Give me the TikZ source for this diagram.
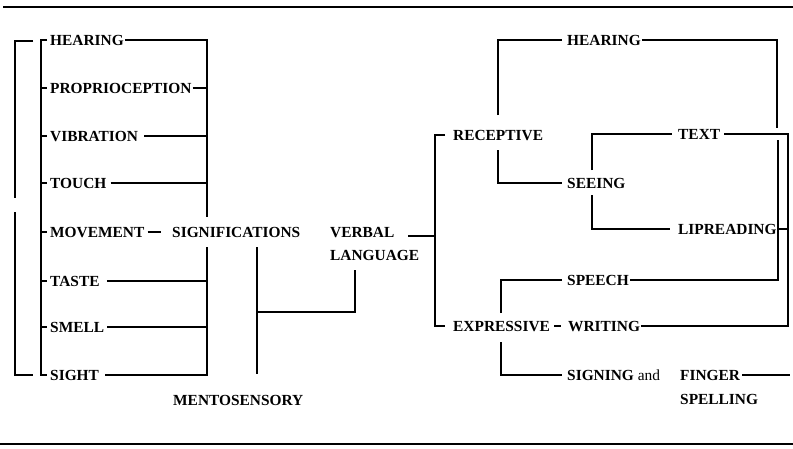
\documentclass[tikz,border=0pt]{standalone}
\usepackage{fontspec}
\setmainfont{Liberation Serif}
\begin{document}
\begin{tikzpicture}[x=1pt,y=-1pt,
  lbl/.style={anchor=west,inner sep=0pt,text height=10.1pt,text depth=0pt,font=\bfseries\fontsize{15.4}{15.4}\selectfont},
  ln/.style={line width=1.8pt,line cap=butt,line join=miter},
  rule/.style={line width=2.8pt}]
\useasboundingbox (0,0) rectangle (793,448);
% rules
\coordinate (tL) at (3,7); \coordinate (tR) at (793,7);
\coordinate (bL) at (0,444); \coordinate (bR) at (793,444);
\draw[rule] (tL) -- (tR);
\draw[rule] (bL) -- (bR);
% senses
\node[lbl] (sH) at (50,40) {HEARING};
\node[lbl] (sP) at (50,88) {PROPRIOCEPTION};
\node[lbl] (sV) at (50,136) {VIBRATION};
\node[lbl] (sT) at (50,183) {TOUCH};
\node[lbl] (sM) at (50,232) {MOVEMENT};
\node[lbl] (sTa) at (50,281) {TASTE};
\node[lbl] (sSm) at (50,327) {SMELL};
\node[lbl] (sSi) at (50,375) {SIGHT};
\node[lbl] (sig) at (172,232) {SIGNIFICATIONS};
\node[lbl] (ment) at (173,400) {MENTOSENSORY};
\node[lbl] (verb) at (330,232) {VERBAL};
\node[lbl] (lang) at (330,255) {LANGUAGE};
\node[lbl] (rec) at (453,135) {RECEPTIVE};
\node[lbl] (exp) at (453,326) {EXPRESSIVE};
\node[lbl] (rH) at (567,40) {HEARING};
\node[lbl] (see) at (567,183) {SEEING};
\node[lbl] (txt) at (678,134) {TEXT};
\node[lbl] (lip) at (678,229) {LIPREADING};
\node[lbl] (spe) at (567,280) {SPEECH};
\node[lbl] (wri) at (568,326) {WRITING};
\node[lbl] (sign) at (567,375) {SIGNING {\mdseries and}};
\node[lbl] (fing) at (680,375) {FINGER};
\node[lbl] (spel) at (680,399) {SPELLING};
% outer bracket
\coordinate (ob1) at (33,41); \coordinate (ob2) at (15,41); \coordinate (ob3) at (15,198);
\coordinate (ob4) at (15,212); \coordinate (ob5) at (15,375); \coordinate (ob6) at (33,375);
\draw[ln] (ob1) -- (ob2) -- (ob3);
\draw[ln] (ob4) -- (ob5) -- (ob6);
% inner bracket
\coordinate (ib) at (41,0);
\draw[ln] ([xshift=-3pt]sH.west) -- (sH.west -| ib) -- (sSi.west -| ib) -- ([xshift=-3pt]sSi.west);
\foreach \n in {sP,sV,sT,sM,sTa,sSm} \draw[ln] (\n.west -| ib) -- ([xshift=-3pt]\n.west);
% right bracket of senses
\coordinate (rb) at (207,0);
\coordinate (rbA) at (207,217); \coordinate (rbB) at (207,247);
\draw[ln] ([xshift=1pt]sH.east) -- (sH.east -| rb) -- (rbA);
\draw[ln] (rbB) -- (sSi.east -| rb) -- ([xshift=6pt]sSi.east);
\foreach \n/\g in {sP/1,sV/6,sT/4,sTa/7,sSm/3} \draw[ln] ([xshift=\g pt]\n.east) -- (\n.east -| rb);
\draw[ln] ([xshift=3pt]sM.east) -- ++(13,0);
% mentosensory
\coordinate (m1) at (257,247); \coordinate (m2) at (257,374);
\coordinate (m3) at (257,312); \coordinate (m4) at (355,312); \coordinate (m5) at (355,270);
\draw[ln] (m1) -- (m2);
\draw[ln] (m3) -- (m4) -- (m5);
% verbal language
\coordinate (v1) at (408,236); \coordinate (vb) at (435,236);
\draw[ln] (v1) -- (vb);
\draw[ln] ([xshift=-8pt]rec.west) -- (rec.west -| vb) -- (exp.west -| vb) -- ([xshift=-8pt]exp.west);
% receptive
\coordinate (ra) at (498,115); \coordinate (rbb) at (498,150);
\draw[ln] (ra) -- (ra |- rH.west) -- ([xshift=-5pt]rH.west);
\draw[ln] (rbb) -- (rbb |- see.west) -- ([xshift=-5pt]see.west);
\coordinate (hx) at (777,128);
\draw[ln] ([xshift=1pt]rH.east) -- (rH.east -| hx) -- (hx);
% seeing
\coordinate (sa) at (592,170); \coordinate (sb) at (592,195);
\draw[ln] (sa) -- (sa |- txt.west) -- ([xshift=-6pt]txt.west);
\draw[ln] (sb) -- (sb |- lip.west) -- ([xshift=-8pt]lip.west);
% cross links
\coordinate (wx) at (788,0); \coordinate (sx) at (778,140);
\draw[ln] ([xshift=4pt]txt.east) -- (txt.east -| wx) -- (wri.east -| wx) -- ([xshift=1pt]wri.east);
\draw[ln] (sx) -- (sx |- spe.east) -- ([xshift=1pt]spe.east);
\draw[ln] (lip.east -| sx) -- (lip.east -| wx);
% expressive
\coordinate (ea) at (501,313); \coordinate (eb) at (501,342);
\draw[ln] (ea) -- (ea |- spe.west) -- ([xshift=-5pt]spe.west);
\draw[ln] (eb) -- (eb |- sign.west) -- ([xshift=-5pt]sign.west);
\draw[ln] ([xshift=4pt]exp.east) -- ([xshift=-7pt]wri.west);
\draw[ln] ([xshift=2pt]fing.east) -- (fing.east -| 790,0);
\end{tikzpicture}
\end{document}
